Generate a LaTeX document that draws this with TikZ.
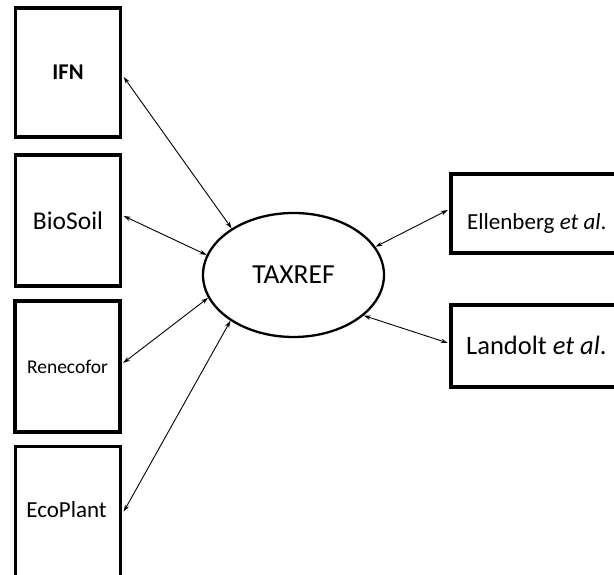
\documentclass[tikz,border=0pt]{standalone}
\usepackage{fontspec}
\setmainfont{Carlito}
\usetikzlibrary{arrows.meta,calc,shapes.geometric}
\begin{document}
\begin{tikzpicture}[x=1pt,y=1pt,
  box/.style={draw, line width=3.2pt, rectangle, inner sep=0pt},
  lbl/.style={inner sep=0pt},
  link/.style={{Stealth[length=7pt,width=4.5pt]}-{Stealth[length=7pt,width=4.5pt]}, line width=0.9pt}]
\useasboundingbox (0,0) rectangle (614,575);
\clip (0,0) rectangle (614,575);
% left boxes
\node[box, minimum width=105, minimum height=129, font=\fontsize{22.5}{27}\selectfont\bfseries] (ifn) at (68,502.5) {IFN};
\node[box, minimum width=105, minimum height=131, font=\fontsize{25.5}{29}\selectfont] (bio) at (68,354.5) {BioSoil};
\node[box, minimum width=105, minimum height=131, font=\fontsize{19.5}{23}\selectfont] (ren) at (67.5,208.5) {Renecofor};
\node[box, minimum width=105, minimum height=160, anchor=north] (eco) at (68,130) {};
\node[lbl, anchor=base, font=\fontsize{23}{27}\selectfont] (ecot) at (66.5,57) {EcoPlant};
% centre
\node[draw, ellipse, line width=2.3pt, minimum width=181, minimum height=124, inner sep=0pt, font=\fontsize{27.5}{31}\selectfont] (tax) at (293.5,300) {TAXREF};
% right boxes
\node[box, minimum width=189, minimum height=79] (ell) at (545.5,361.5) {};
\node[lbl, anchor=base west, font=\fontsize{23}{27}\selectfont] (ellt) at (467,345) {Ellenberg \textit{et al}.};
\node[box, minimum width=189, minimum height=82] (lan) at (545.5,229) {};
\node[lbl, anchor=base west, font=\fontsize{26.5}{30}\selectfont] (lant) at (466,220) {Landolt \textit{et al}.};
% links
\draw[link] ([shift={(1.6,-4.5)}]ifn.east) -- (tax.143.1);
\draw[link] ([shift={(1.6,4.5)}]bio.east) -- (tax.167.9);
\draw[link] ([shift={(1.6,3.5)}]ren.east) -- (tax.195.5);
\draw[link] ([shift={(1.6,15)}]eco.east) -- (tax.216.5);
\draw[link] ([shift={(-1.6,3.5)}]ell.west) -- (tax.19.8);
\draw[link] ([shift={(-1.6,3)}]lan.west) -- (tax.-30.3);
\end{tikzpicture}
\end{document}
